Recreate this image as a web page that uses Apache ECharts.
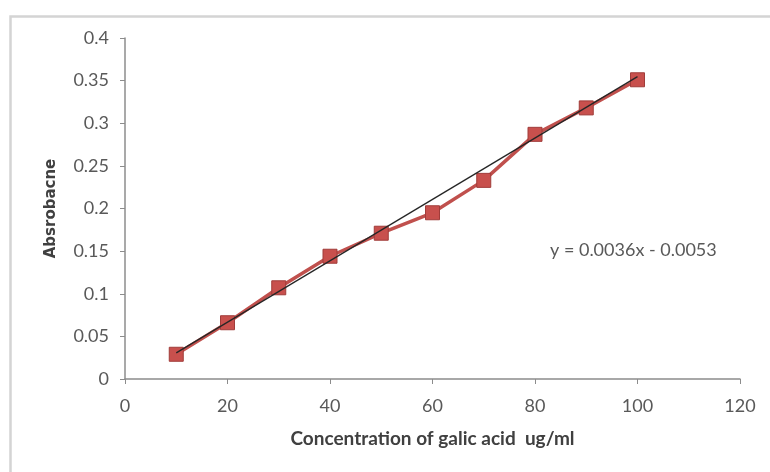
<!DOCTYPE html>
<html>
<head>
<meta charset="utf-8">
<script src="https://cdn.jsdelivr.net/npm/echarts@6/dist/echarts.min.js"></script>
<style>html,body{margin:0;padding:0;background:#fff}#c{width:770px;height:472px}</style>
</head>
<body>
<div id="c"></div>
<script>
var concentration = [10, 20, 30, 40, 50, 60, 70, 80, 90, 100];
var absorbance = [0.029, 0.066, 0.107, 0.144, 0.171, 0.195, 0.233, 0.287, 0.318, 0.351];
var trendX = [10, 100];
var trendY = [0.0307, 0.3547];
var xTitle = 'Concentration of galic acid  ug/ml';
var yTitle = 'Absrobacne';
var equation = 'y = 0.0036x - 0.0053';

var chart = echarts.init(document.getElementById('c'));
var font = 'Lato, "Liberation Sans", sans-serif';
chart.setOption({
  animation: false,
  backgroundColor: '#fff',
  grid: {left: 125, right: 30, top: 38, bottom: 93},
  graphic: [
    {type: 'rect', left: 8, top: 14, shape: {width: 800, height: 500}, style: {fill: 'none', stroke: '#d4d4d4', lineWidth: 2.5}, z: -1},
    {type: 'text', left: 550, top: 241, style: {text: equation, font: '18px ' + font, fill: '#595959'}}
  ],
  xAxis: {
    type: 'value', min: 0, max: 120, interval: 20,
    name: xTitle, nameLocation: 'middle', nameGap: 50,
    nameTextStyle: {fontFamily: font, fontWeight: 'bold', fontSize: 19, color: '#404040'},
    axisLine: {lineStyle: {color: '#8c8c8c', width: 1.5}},
    axisTick: {show: true, length: 5, lineStyle: {color: '#8c8c8c'}},
    axisLabel: {fontFamily: font, fontSize: 18, color: '#595959', margin: 18},
    splitLine: {show: false}
  },
  yAxis: {
    type: 'value', min: 0, max: 0.4, interval: 0.05,
    name: yTitle, nameLocation: 'middle', nameGap: 66,
    nameTextStyle: {fontFamily: '"DejaVu Sans", sans-serif', fontWeight: 'bold', fontSize: 15, color: '#404040'},
    axisLine: {show: true, lineStyle: {color: '#8c8c8c', width: 1.5}},
    axisTick: {show: true, length: 5, lineStyle: {color: '#8c8c8c'}},
    axisLabel: {fontFamily: font, fontSize: 18, color: '#595959', margin: 16},
    splitLine: {show: false}
  },
  series: [
    {
      type: 'line',
      data: concentration.map(function (x, i) { return [x, absorbance[i]]; }),
      symbol: 'rect', symbolSize: 14,
      lineStyle: {color: '#C0504D', width: 3.5},
      itemStyle: {color: '#C8504D', borderColor: '#A03C3A', borderWidth: 1},
      z: 2
    },
    {
      type: 'line',
      data: trendX.map(function (x, i) { return [x, trendY[i]]; }),
      symbol: 'none',
      lineStyle: {color: '#262626', width: 1.3},
      z: 3
    }
  ]
});
</script>
</body>
</html>
